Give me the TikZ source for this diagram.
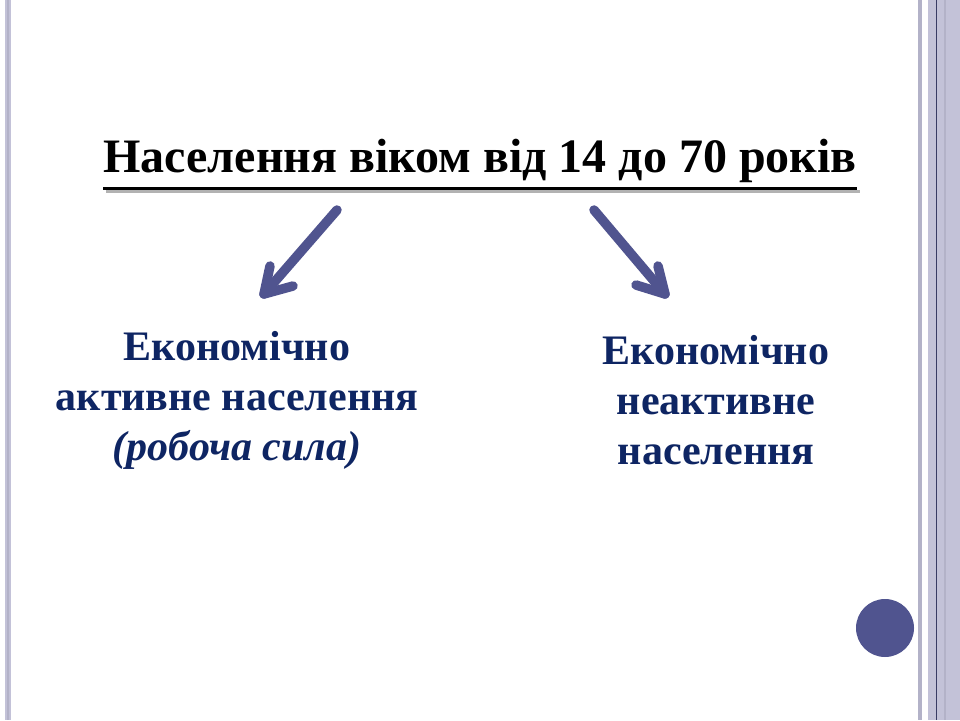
\documentclass[tikz,border=0pt]{standalone}
\usepackage{fontspec}
\setmainfont{Liberation Serif}
\usetikzlibrary{arrows.meta}
\definecolor{arr}{HTML}{50548F}
\definecolor{navy}{HTML}{0E2563}
\definecolor{lav}{HTML}{C3C2D8}
\definecolor{lavd}{HTML}{B3B2C8}
\tikzset{
 body/.style={text=navy,font=\fontsize{42}{50}\selectfont\bfseries,align=center,inner sep=0pt},
 bigarrow/.style={draw=arr,line width=9.5pt,line cap=round,line join=round}
}
\begin{document}
\begin{tikzpicture}[x=1pt,y=-1pt]
\useasboundingbox (0,0) rectangle (960,720);
\fill[white] (0,0) rectangle (960,720);
% borders
\fill[lav] (5,0) rectangle (11,720);
\fill[lavd] (7,0) rectangle (9,720);
\fill[lavd] (918,0) rectangle (922,720);
\fill[lav] (928,0) rectangle (960,720);
\draw[arr!70!black,line width=0.8pt] (936,0) -- (936,720);
\fill[lavd] (944,0) rectangle (946,720);
% title
\node[inner sep=0pt,text=black] (title) at (480,161) {\fontsize{48}{50}\selectfont\bfseries Населення віком від 14 до 70 років};
\draw[gray!60,line width=3pt] (106,191) -- (860,191);
\draw[black,line width=3pt] (103,188) -- (857,188);
% arrows
\coordinate (a1) at (337,210);
\coordinate (a2) at (264,294);
\coordinate (b1) at (594,210);
\coordinate (b2) at (665,294);
\draw[bigarrow] (a1) -- (a2);
\draw[bigarrow] (270,266) -- (a2) -- (293,286);
\draw[bigarrow] (b1) -- (b2);
\draw[bigarrow] (658,266) -- (b2) -- (636,285);
% texts
\node[body] (left) at (237,400) {Економічно\\активне населення\\\itshape(робоча сила)};
\node[body] (right) at (716,400) {Економічно\\неактивне\\населення};
% circle
\fill[arr] (885,628) circle (29);
\end{tikzpicture}
\end{document}
